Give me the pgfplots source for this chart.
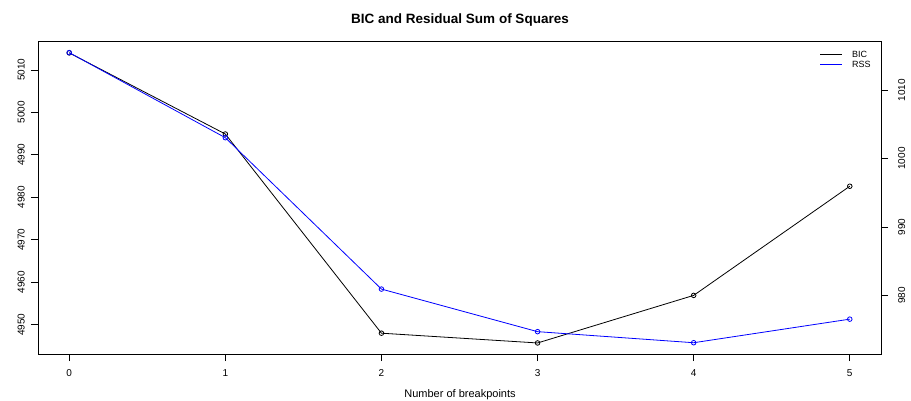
\documentclass[border=0pt]{standalone}
\usepackage{pgfplots}
\pgfplotsset{compat=1.18}
\usepackage{fontspec}
\setmainfont{Liberation Sans}
\begin{document}
\begin{tikzpicture}[x=1pt,y=1pt]
\path[use as bounding box] (0,0) rectangle (911,400);
\pgfplotsset{
  common/.style={
    at={(38pt,46pt)}, anchor=south west,
    width=843pt, height=313pt, scale only axis,
    xmin=-0.2, xmax=5.2,
    tick align=outside, major tick length=7pt,
    every tick/.style={black, line width=0.7pt},
    /pgf/number format/assume math mode=true,
    /pgf/number format/1000 sep={},
    ticklabel style={font=\fontsize{10}{12}\selectfont, inner sep=0pt},
    axis line style={line width=0.8pt},
  }
}
\begin{axis}[common,
  ymin=4943.1, ymax=5016.8,
  xtick={0,1,2,3,4,5}, ytick={4950,4960,...,5010},
  xtick pos=bottom, ytick pos=left,
  yticklabel style={rotate=90, anchor=south},
  xticklabel style={anchor=north},
  xticklabel shift=8pt, yticklabel shift=6pt,
]
\addplot[black, line width=0.8pt, mark=o, mark size=2.3pt, mark options={line width=0.8pt}]
  coordinates {(0,5014.0)(1,4994.9)(2,4948.0)(3,4945.7)(4,4956.9)(5,4982.6)};
\end{axis}
\begin{axis}[common, hide x axis, axis y line*=right,
  ymin=971.4, ymax=1017.2, ytick={980,990,1000,1010},
  yticklabel style={rotate=90, anchor=north},
  yticklabel shift=10pt,
  legend style={draw=none, fill=none, at={(rel axis cs:0.927,0.974)}, anchor=north west,
    inner sep=0pt, row sep=0pt, font=\fontsize{9}{10}\selectfont,
    nodes={text height=6.5pt, text depth=0pt, inner sep=1.75pt}},
  legend cell align=left,
  legend image code/.code={\draw[#1] (0pt,0pt) -- (22pt,0pt); \path (30pt,0pt);},
]
\addlegendimage{black, line width=0.8pt}
\addlegendentry{BIC}
\addplot[blue, line width=0.8pt, mark=o, mark size=2.3pt, mark options={line width=0.8pt}]
  coordinates {(0,1015.5)(1,1003.05)(2,980.9)(3,974.67)(4,973.05)(5,976.5)};
\addlegendentry{RSS}
\end{axis}
\node[font=\fontsize{13.5}{16}\selectfont\bfseries, anchor=base] at (460,376) {BIC and Residual Sum of Squares};
\node[font=\fontsize{11}{13}\selectfont, anchor=base] at (460,2.6) {Number of breakpoints};
\end{tikzpicture}
\end{document}
